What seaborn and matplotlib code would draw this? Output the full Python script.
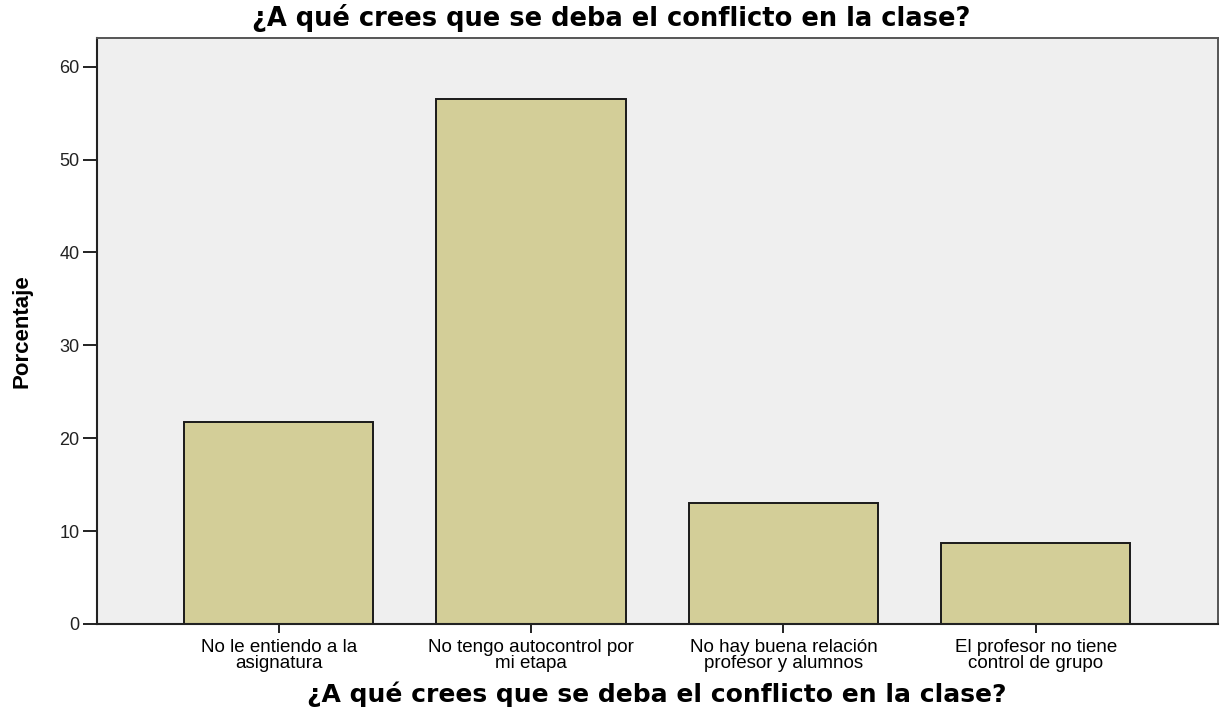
import matplotlib
matplotlib.use("Agg")
import matplotlib.pyplot as plt
from matplotlib import font_manager
import seaborn as sns
import pandas as pd

# Datos (porcentaje por respuesta)
categorias = [
    "No le entiendo a la\nasignatura",
    "No tengo autocontrol por\nmi etapa",
    "No hay buena relación\nprofesor y alumnos",
    "El profesor no tiene\ncontrol de grupo",
]
porcentajes = [21.7, 56.5, 13.0, 8.7]
y_ticks = [0, 10, 20, 30, 40, 50, 60]

titulo = "¿A qué crees que se deba el conflicto en la clase?"

df = pd.DataFrame({"categoria": categorias, "porcentaje": porcentajes})

sns.set_style("white")
plt.rcParams["font.family"] = ["Liberation Sans", "DejaVu Sans"]
plt.rcParams["text.color"] = "black"
plt.rcParams["axes.labelcolor"] = "black"
plt.rcParams["xtick.color"] = "black"
plt.rcParams["ytick.color"] = "black"

# fuente estrecha para el eje Y si existe
nombres = {f.name for f in font_manager.fontManager.ttflist}
if "Liberation Sans Narrow" in nombres:
    fam_y, size_y = "Liberation Sans Narrow", 18.5
else:
    fam_y, size_y = "Liberation Sans", 16

fig = plt.figure(figsize=(12.2, 7.11), dpi=100)
ax = fig.add_axes([0.0795, 0.1224, 0.9185, 0.8242])
ax.set_facecolor("#efefef")

sns.barplot(data=df, x="categoria", y="porcentaje", color="#d3ce98",
            saturation=1, width=0.75, edgecolor="#1a1a1a", linewidth=1.4, ax=ax)

ax.set_xlim(-0.72, 3.72)
ax.set_ylim(0, 63.1)
ax.set_yticks(y_ticks)
ax.tick_params(axis="y", left=True, length=10, width=1.4, color="#222222",
               labelsize=13, pad=2.5, labelcolor="#222222")
ax.tick_params(axis="x", bottom=True, length=6.5, width=1.4, color="#222222",
               labelsize=13.5, pad=4, labelcolor="black")
for lbl in ax.get_xticklabels():
    lbl.set_linespacing(0.92)

for side in ["left", "bottom"]:
    ax.spines[side].set_color("#222222")
    ax.spines[side].set_linewidth(1.5)
for side in ["top", "right"]:
    ax.spines[side].set_color("#555555")
    ax.spines[side].set_linewidth(1.4)

ax.set_xlabel("")
ax.set_ylabel("")
fig.text(657 / 1220, 1 - 694 / 711, titulo, ha="center", va="center", fontsize=18,
         fontweight="bold", family="DejaVu Sans")
fig.text(22 / 1220, 1 - 331 / 711, "Porcentaje", ha="center", va="center",
         rotation=90, fontsize=size_y, fontweight="bold", family=fam_y)
fig.text(611 / 1220, 1 - 18 / 711, titulo, ha="center", va="center", fontsize=18.5,
         fontweight="bold", family="DejaVu Sans")

fig.savefig("out.png", dpi=100)
